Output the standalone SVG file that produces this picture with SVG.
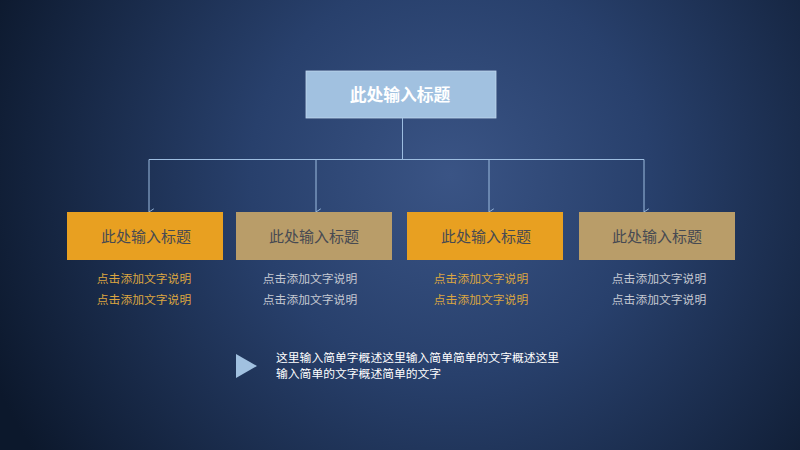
<svg xmlns="http://www.w3.org/2000/svg" width="800" height="450" viewBox="0 0 800 450">
<defs>
<radialGradient id="bg" cx="450" cy="175" r="500" gradientUnits="userSpaceOnUse">
<stop offset="0" stop-color="#3a5485"/>
<stop offset="0.4" stop-color="#28406c"/>
<stop offset="1" stop-color="#0c182c"/>
</radialGradient>
<marker id="arr" viewBox="0 0 10 10" refX="5" refY="9" markerWidth="8" markerHeight="8" markerUnits="userSpaceOnUse" orient="auto-start-reverse">
<path d="M1,3 L5,9 L9,3" fill="none" stroke="#9dbde0" stroke-width="1.2"/>
</marker>
<style>
text{font-family:"Microsoft YaHei","Noto Sans CJK SC",sans-serif;text-anchor:middle}
.t{font-size:15px;fill:#474a52}
.o{fill:#e8a021}
.k{fill:#b99d69}
.so{font-size:11.8px;fill:#dca640}
.sg{font-size:11.8px;fill:#c5c9d2}
.ln{stroke:#9dbde0;stroke-width:1;fill:none}
</style>
</defs>
<rect width="800" height="450" fill="url(#bg)"/>
<g id="root">
<rect x="306" y="71" width="190" height="47" fill="#a1c1e0" stroke="#c0d6ee" stroke-width="0.8"/>
<text x="400" y="101" font-size="16.8" font-weight="bold" fill="#ffffff">此处输入标题</text>
</g>
<g id="connectors" class="ln">
<path d="M402.5,118 V159.5"/>
<path d="M149,159.5 H644"/>
<path d="M149,159.5 V212" marker-end="url(#arr)"/>
<path d="M316,159.5 V212" marker-end="url(#arr)"/>
<path d="M489,159.5 V212" marker-end="url(#arr)"/>
<path d="M644,159.5 V212" marker-end="url(#arr)"/>
</g>
<g id="n1">
<rect x="67" y="212" width="156" height="48" class="o"/>
<text x="146" y="242" class="t">此处输入标题</text>
<text x="144" y="283" class="so">点击添加文字说明</text>
<text x="144" y="304" class="so">点击添加文字说明</text>
</g>
<g id="n2">
<rect x="236" y="212" width="156" height="48" class="k"/>
<text x="314" y="242" class="t">此处输入标题</text>
<text x="310" y="283" class="sg">点击添加文字说明</text>
<text x="310" y="304" class="sg">点击添加文字说明</text>
</g>
<g id="n3">
<rect x="407" y="212" width="156" height="48" class="o"/>
<text x="486" y="242" class="t">此处输入标题</text>
<text x="481" y="283" class="so">点击添加文字说明</text>
<text x="481" y="304" class="so">点击添加文字说明</text>
</g>
<g id="n4">
<rect x="579" y="212" width="156" height="48" class="k"/>
<text x="657" y="242" class="t">此处输入标题</text>
<text x="659" y="283" class="sg">点击添加文字说明</text>
<text x="659" y="304" class="sg">点击添加文字说明</text>
</g>
<g id="note">
<path d="M236,354 L257,366 L236,378 Z" fill="#a1c1e0"/>
<text x="276" y="362" font-size="11.8" fill="#ffffff" style="text-anchor:start">这里输入简单字概述这里输入简单简单的文字概述这里</text>
<text x="276" y="378" font-size="11.8" fill="#ffffff" style="text-anchor:start">输入简单的文字概述简单的文字</text>
</g>
</svg>
